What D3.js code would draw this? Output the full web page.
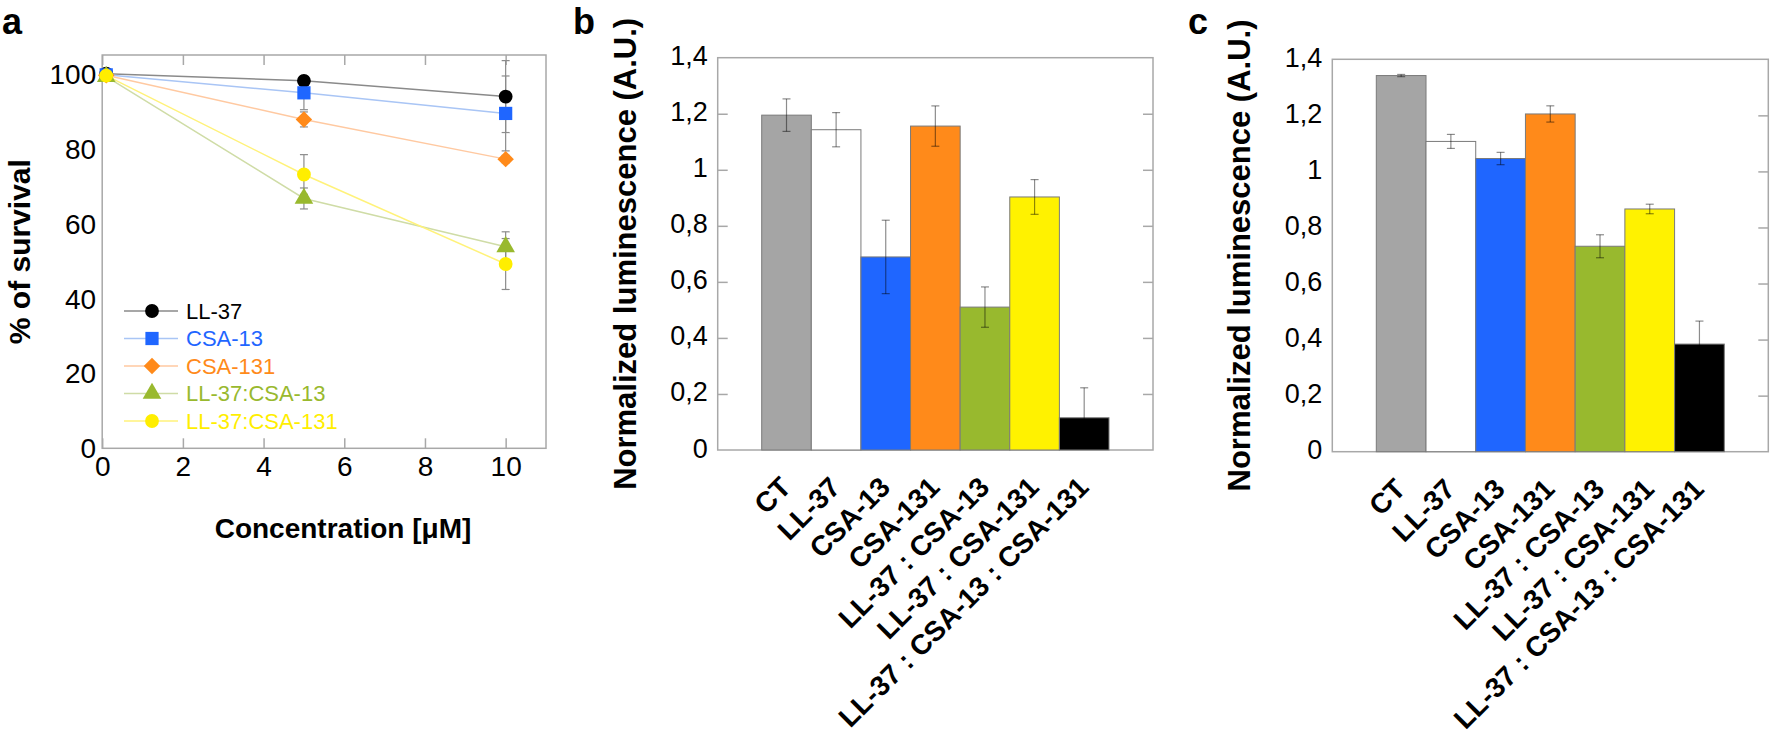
<!DOCTYPE html>
<html>
<head>
<meta charset="utf-8">
<script src="https://cdn.jsdelivr.net/npm/d3@7"></script>
<style>
  html, body { margin: 0; padding: 0; background: #ffffff; }
  svg { display: block; }
  text { font-family: "Liberation Sans", Arial, Helvetica, sans-serif; }
</style>
</head>
<body>
<svg id="chart" width="1772" height="744"></svg>
<script>
// ---------------- DATA ----------------
// Panel a: survival vs concentration
const concentrations = [0.1, 5, 10];
const seriesNames = ["LL-37", "CSA-13", "CSA-131", "LL-37:CSA-13", "LL-37:CSA-131"];
const survLL37       = [100.0, 98.1, 93.9];
const survCSA13      = [99.7, 94.9, 89.4];
const survCSA131     = [99.6, 87.8, 77.2];
const survLL37CSA13  = [99.2, 66.7, 53.8];
const survLL37CSA131 = [99.5, 73.1, 49.2];
const errLL37        = [0.5, 1.0, 9.6];
const errCSA13       = [0.5, 4.5, 10.0];
const errCSA131      = [0.8, 2.0, 1.0];
const errLL37CSA13   = [0.8, 2.8, 4.0];
const errLL37CSA131  = [0.5, 5.3, 6.8];
const survivalTicks  = [0, 20, 40, 60, 80, 100];
const concTicks      = [0, 2, 4, 6, 8, 10];

// Panels b and c: normalized luminescence
const categories = ["CT", "LL-37", "CSA-13", "CSA-131", "LL-37 : CSA-13", "LL-37 : CSA-131", "LL-37 : CSA-13 : CSA-131"];
const lumB    = [1.195, 1.143, 0.689, 1.156, 0.510, 0.903, 0.115];
const lumBErr = [0.058, 0.061, 0.131, 0.072, 0.072, 0.062, 0.107];
const lumC    = [1.342, 1.107, 1.046, 1.205, 0.733, 0.866, 0.384];
const lumCErr = [0.004, 0.025, 0.022, 0.029, 0.041, 0.017, 0.082];
const lumTicks = [0, 0.2, 0.4, 0.6, 0.8, 1, 1.2, 1.4];

// ---------------- STYLE ----------------
const FONT = '"Liberation Sans", Arial, Helvetica, sans-serif';
const FRAME = "#a8a8a8";
const seriesMarkerColors = ["#000000", "#1f66ff", "#ff8a1a", "#99b92e", "#ffee00"];
const seriesLineColors   = ["#8a8a8a", "#a9c5f5", "#ffc9a1", "#cfdca6", "#fff27a"];
const seriesShapes = [d3.symbolCircle, d3.symbolSquare, d3.symbolSquare, d3.symbolTriangle, d3.symbolCircle];
const seriesRot    = [0, 0, 45, 0, 0];
const seriesSizes  = [150, 175, 135, 150, 150];
const barColors = ["#a5a5a5", "#ffffff", "#1f66ff", "#ff8a1a", "#98b92e", "#fff200", "#000000"];

const svg = d3.select("#chart");
const commaFmt = d3.formatLocale({decimal: ",", thousands: ".", grouping: [3], currency: ["", ""]}).format("~g");

// ---------------- PANEL A ----------------
(function panelA() {
  const left = 102.2, right = 546, top = 55, bottom = 448.3;
  const x = d3.scaleLinear().domain([0, 11]).range([left, right]);
  const y = d3.scaleLinear().domain([0, 105]).range([bottom, top]);
  const g = svg.append("g");

  const surv = [survLL37, survCSA13, survCSA131, survLL37CSA13, survLL37CSA131];
  const errs = [errLL37, errCSA13, errCSA131, errLL37CSA13, errLL37CSA131];
  const series = seriesNames.map((name, i) => ({
    name, i,
    pts: concentrations.map((c, k) => ({c, v: surv[i][k], e: errs[i][k]}))
  }));

  // frame
  g.append("rect").attr("x", left).attr("y", top).attr("width", right - left).attr("height", bottom - top)
    .attr("fill", "none").attr("stroke", FRAME).attr("stroke-width", 1.5);

  // bottom axis (inward ticks)
  const xb = g.append("g").attr("transform", `translate(0,${bottom})`)
    .call(d3.axisBottom(x).tickValues(concTicks).tickSize(-10).tickPadding(8).tickFormat(d3.format("d")));
  xb.select(".domain").remove();
  xb.selectAll("line").attr("stroke", FRAME).attr("stroke-width", 1.5);
  xb.selectAll("text").attr("font-size", 28).attr("font-family", FONT).attr("fill", "#000");
  // top axis ticks
  const xt = g.append("g").attr("transform", `translate(0,${top})`)
    .call(d3.axisTop(x).tickValues(concTicks).tickSize(-10).tickFormat(""));
  xt.select(".domain").remove();
  xt.selectAll("line").attr("stroke", FRAME).attr("stroke-width", 1.5);

  // left axis labels
  const yl = g.append("g").attr("transform", `translate(${left},0)`)
    .call(d3.axisLeft(y).tickValues(survivalTicks).tickSize(0).tickPadding(6));
  yl.select(".domain").remove();
  yl.selectAll("text").attr("font-size", 28).attr("font-family", FONT).attr("fill", "#000").attr("dy", "0.34em");

  // error bars
  const eg = g.append("g");
  series.forEach(s => {
    s.pts.forEach(p => {
      const cx = x(p.c), y1 = y(p.v + p.e), y2 = y(p.v - p.e);
      eg.append("line").attr("x1", cx).attr("x2", cx).attr("y1", y1).attr("y2", y2)
        .attr("stroke", "#8c8c8c").attr("stroke-width", 1.2);
      [y1, y2].forEach(yy => eg.append("line").attr("x1", cx - 4).attr("x2", cx + 4)
        .attr("y1", yy).attr("y2", yy).attr("stroke", "#8c8c8c").attr("stroke-width", 1.2));
    });
  });

  // lines
  const line = d3.line().x(d => x(d.c)).y(d => y(d.v));
  g.append("g").selectAll("path").data(series).join("path")
    .attr("d", d => line(d.pts)).attr("fill", "none")
    .attr("stroke", d => seriesLineColors[d.i]).attr("stroke-width", 1.5);

  // markers
  series.forEach(s => {
    const shape = d3.symbol().type(seriesShapes[s.i]).size(seriesSizes[s.i])();
    g.append("g").selectAll("path").data(s.pts).join("path")
      .attr("transform", d => `translate(${x(d.c)},${y(d.v)}) rotate(${seriesRot[s.i]})`)
      .attr("d", shape).attr("fill", seriesMarkerColors[s.i]);
  });

  // legend
  const lg = g.append("g");
  const rowY0 = 311, rowStep = 27.5;
  seriesNames.forEach((name, i) => {
    const ry = rowY0 + i * rowStep;
    lg.append("line").attr("x1", 124).attr("x2", 178).attr("y1", ry).attr("y2", ry)
      .attr("stroke", seriesLineColors[i]).attr("stroke-width", 1.5);
    lg.append("path").attr("transform", `translate(152,${ry}) rotate(${seriesRot[i]})`)
      .attr("d", d3.symbol().type(seriesShapes[i]).size(seriesSizes[i])())
      .attr("fill", seriesMarkerColors[i]);
    lg.append("text").attr("x", 186).attr("y", ry).attr("dy", "0.36em")
      .attr("font-size", 22).attr("font-family", FONT).attr("fill", seriesMarkerColors[i]).text(name);
  });

  // axis titles
  g.append("text").attr("transform", `translate(30,${(top + bottom) / 2}) rotate(-90)`)
    .attr("text-anchor", "middle").attr("font-size", 30).attr("font-weight", "bold")
    .attr("font-family", FONT).text("% of survival");
  g.append("text").attr("x", 343).attr("y", 538)
    .attr("text-anchor", "middle").attr("font-size", 28).attr("font-weight", "bold")
    .attr("font-family", FONT).text("Concentration [μM]");

  g.append("text").attr("x", 2).attr("y", 34).attr("font-size", 36).attr("font-weight", "bold")
    .attr("font-family", FONT).text("a");
})();

// ---------------- PANELS B & C ----------------
function barPanel(cfg) {
  const {left, right, top, bottom, values, errors, letter, letterX, leftTicks} = cfg;
  const g = svg.append("g");
  const x = d3.scaleBand().domain(categories).range([left + 44, right - 44]).padding(0);
  const y = d3.scaleLinear().domain([0, 1.4]).range([bottom, top]);
  const data = categories.map((c, i) => ({c, i, v: values[i], e: errors[i]}));

  // frame
  g.append("rect").attr("x", left).attr("y", top).attr("width", right - left).attr("height", bottom - top)
    .attr("fill", "none").attr("stroke", FRAME).attr("stroke-width", 1.5);

  // left axis labels (+ inward ticks)
  const yl = g.append("g").attr("transform", `translate(${left},0)`)
    .call(d3.axisLeft(y).tickValues(lumTicks).tickSize(leftTicks ? -10 : 0).tickPadding(10).tickFormat(commaFmt));
  yl.select(".domain").remove();
  yl.selectAll("line").attr("stroke", FRAME).attr("stroke-width", 1.5)
    .attr("display", d => (d === 0 || d === 1.4) ? "none" : null);
  yl.selectAll("text").attr("font-size", 27).attr("font-family", FONT).attr("fill", "#000").attr("dy", "0.26em");

  // right inward ticks
  const yr = g.append("g").attr("transform", `translate(${right},0)`)
    .call(d3.axisRight(y).tickValues(lumTicks.filter(t => t > 0 && t < 1.4)).tickSize(-10).tickFormat(""));
  yr.select(".domain").remove();
  yr.selectAll("line").attr("stroke", FRAME).attr("stroke-width", 1.5);

  // bars
  g.append("g").selectAll("rect").data(data).join("rect")
    .attr("x", d => x(d.c)).attr("width", x.bandwidth())
    .attr("y", d => y(d.v)).attr("height", d => y(0) - y(d.v))
    .attr("fill", d => barColors[d.i]).attr("stroke", "#7a7a7a").attr("stroke-width", 1);

  // error bars
  const eg = g.append("g");
  data.forEach(d => {
    const cx = x(d.c) + x.bandwidth() / 2, y1 = y(d.v + d.e), y2 = y(d.v - d.e);
    eg.append("line").attr("x1", cx).attr("x2", cx).attr("y1", y1).attr("y2", y2)
      .attr("stroke", "#000").attr("stroke-opacity", 0.45).attr("stroke-width", 1.2);
    [y1, y2].forEach(yy => eg.append("line").attr("x1", cx - 4).attr("x2", cx + 4).attr("y1", yy).attr("y2", yy)
      .attr("stroke", "#000").attr("stroke-opacity", 0.45).attr("stroke-width", 1.2));
  });

  // category labels
  g.append("g").selectAll("text").data(data).join("text")
    .attr("transform", d => `translate(${x(d.c) + x.bandwidth() / 2 + 6},${bottom + 39}) rotate(-45)`)
    .attr("text-anchor", "end").attr("font-size", 28).attr("font-weight", "bold")
    .attr("font-family", FONT).text(d => d.c);

  // y title
  g.append("text").attr("transform", `translate(${left - 82},${(top + bottom) / 2}) rotate(-90)`)
    .attr("text-anchor", "middle").attr("font-size", 31).attr("font-weight", "bold")
    .attr("font-family", FONT).text("Normalized luminescence (A.U.)");

  g.append("text").attr("x", letterX).attr("y", 34).attr("font-size", 36).attr("font-weight", "bold")
    .attr("font-family", FONT).text(letter);
}

barPanel({left: 717.7, right: 1153, top: 57.7, bottom: 450, values: lumB, errors: lumBErr,
          letter: "b", letterX: 573, leftTicks: true});
barPanel({left: 1332.3, right: 1768.3, top: 59.3, bottom: 451.7, values: lumC, errors: lumCErr,
          letter: "c", letterX: 1188, leftTicks: false});
</script>
</body>
</html>
